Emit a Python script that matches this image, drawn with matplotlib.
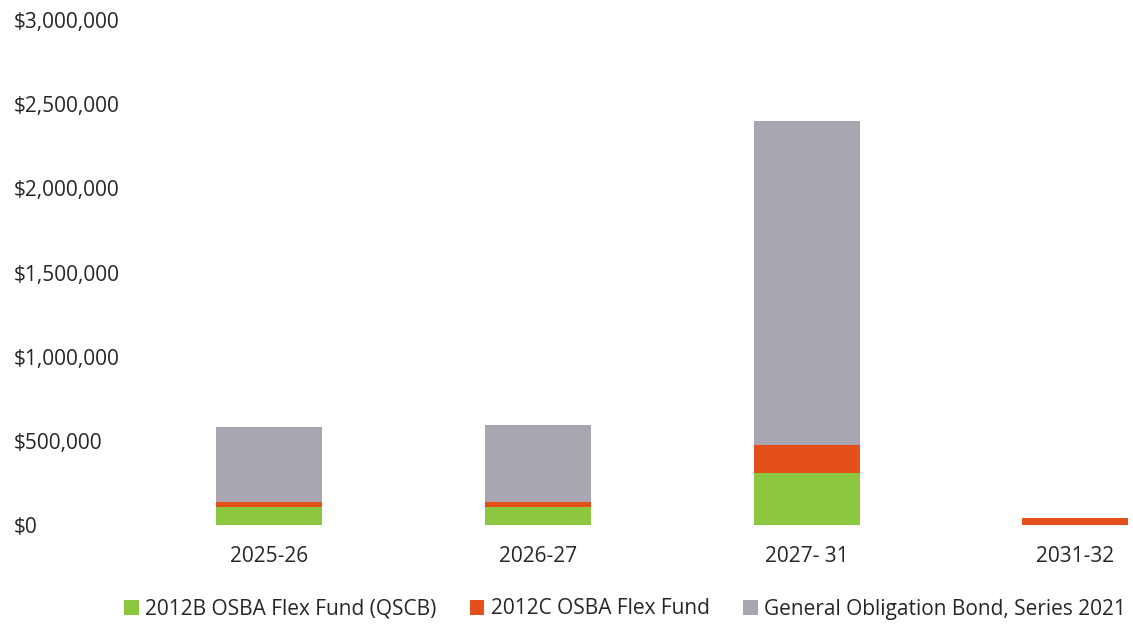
import matplotlib
matplotlib.use("Agg")
import matplotlib.pyplot as plt
import numpy as np
from matplotlib.ticker import FuncFormatter

# values
years = ["2025-26", "2026-27", "2027- 31", "2031-32"]
qscb = [105000, 105000, 310000, 0]
flex_2012c = [32000, 32000, 165000, 42000]
go_2021 = [445000, 455000, 1925000, 0]

labels = ["2012B OSBA Flex Fund (QSCB)", "2012C OSBA Flex Fund",
          "General Obligation Bond, Series 2021"]
colors = ["#8cc83f", "#e4501c", "#a9a5b1"]

plt.rcParams["font.family"] = ["Open Sans", "DejaVu Sans"]
txt_col = "#262626"

fig = plt.figure(figsize=(11.33, 6.28), dpi=100)
ax = fig.add_axes([135 / 1133, 103 / 628, 1 - 135 / 1133, 505 / 628])

x = np.arange(len(years))
w = 0.395
b1 = ax.bar(x, qscb, w, color=colors[0], label=labels[0])
b2 = ax.bar(x, flex_2012c, w, bottom=qscb, color=colors[1], label=labels[1])
bottom3 = np.array(qscb) + np.array(flex_2012c)
b3 = ax.bar(x, go_2021, w, bottom=bottom3, color=colors[2], label=labels[2])

ax.set_xlim(-0.5, 3.215)
ax.set_ylim(0, 3000000)
ax.set_yticks(np.arange(0, 3000001, 500000))
ax.yaxis.set_major_formatter(FuncFormatter(lambda v, p: "${:,.0f}".format(v)))
ax.set_xticks(x)
ax.set_xticklabels(years)

for s in ax.spines.values():
    s.set_visible(False)
ax.tick_params(axis="both", length=0, labelsize=15, colors=txt_col)
ax.tick_params(axis="y", pad=87)
for t in ax.get_yticklabels():
    t.set_horizontalalignment("left")
ax.tick_params(axis="x", pad=15)

leg = fig.legend(handles=[b1, b2, b3], loc="center", bbox_to_anchor=(625 / 1133, 1 - 609 / 628),
                 ncol=3, frameon=False, fontsize=15, handlelength=0.7, handleheight=0.7,
                 handletextpad=0.3, columnspacing=1.6)
for t in leg.get_texts():
    t.set_color(txt_col)

fig.savefig("out.png", dpi=100)
